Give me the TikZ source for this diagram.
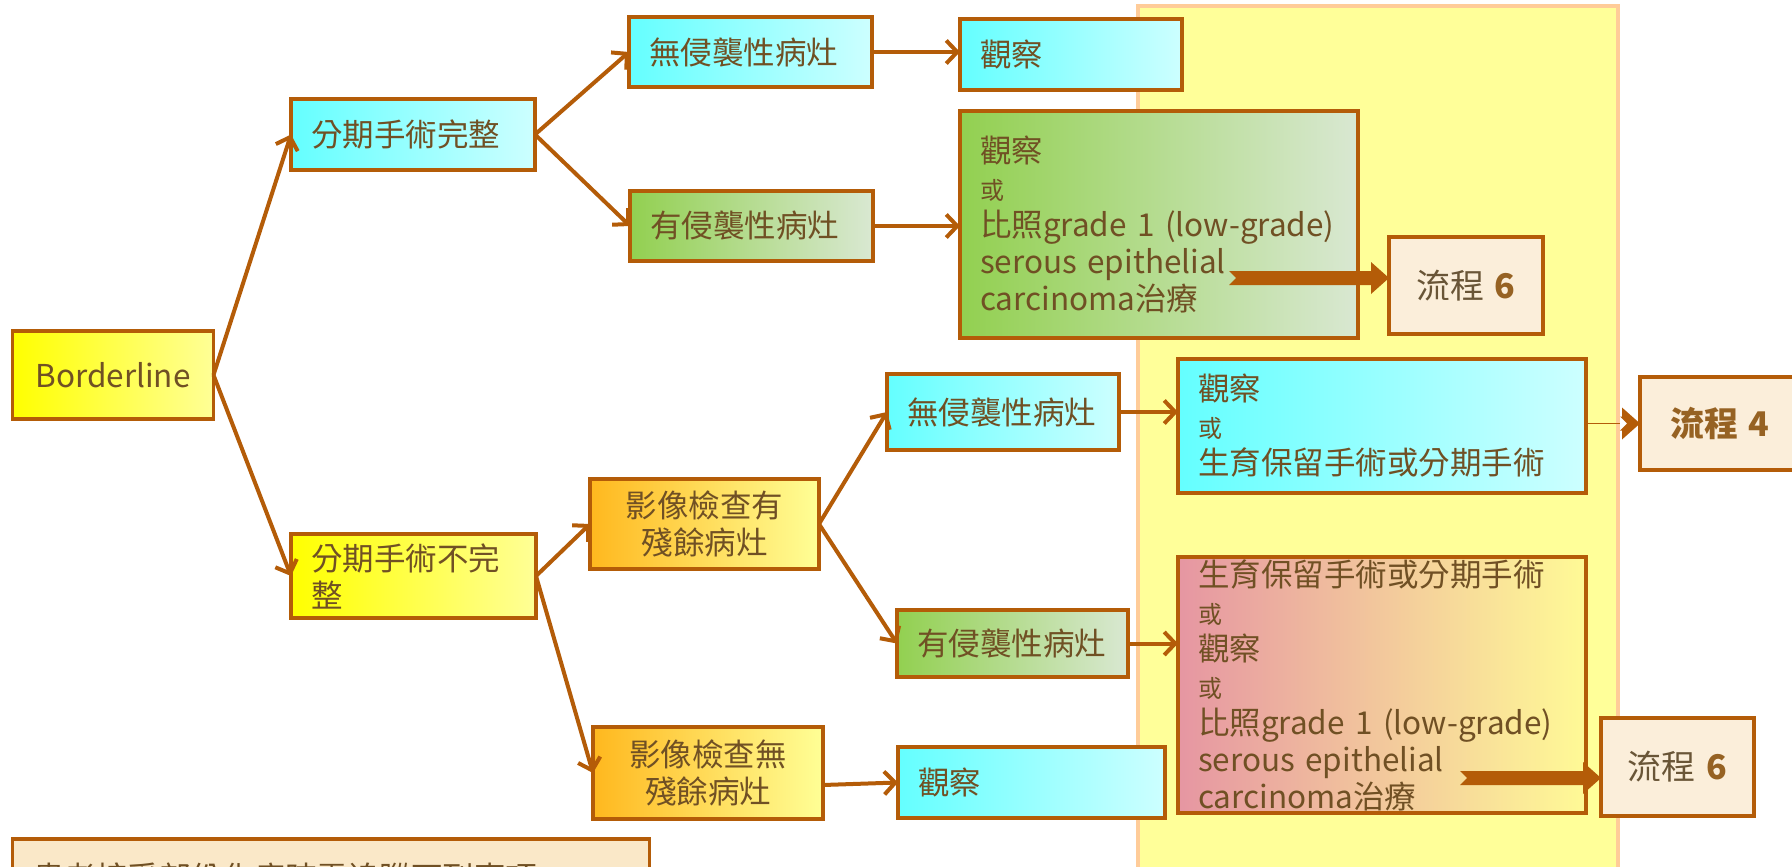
\documentclass[tikz,border=0pt]{standalone}
\usepackage{fontspec}
\setmainfont{Noto Sans CJK TC}
\usetikzlibrary{arrows.meta,calc}
\definecolor{brn}{RGB}{180,92,8}
\definecolor{txt}{RGB}{112,80,36}
\definecolor{cyA}{RGB}{100,255,255}
\definecolor{cyB}{RGB}{205,255,255}
\definecolor{ylA}{RGB}{255,255,0}
\definecolor{ylB}{RGB}{255,255,150}
\definecolor{orA}{RGB}{255,184,30}
\definecolor{orB}{RGB}{255,255,150}
\definecolor{grA}{RGB}{146,208,80}
\definecolor{grB}{RGB}{217,232,210}
\definecolor{pkA}{RGB}{230,150,162}
\definecolor{pkB}{RGB}{255,250,150}
\definecolor{cream}{RGB}{251,238,218}
\definecolor{bgy}{RGB}{255,255,153}
\definecolor{bgb}{RGB}{255,204,153}
\definecolor{note}{RGB}{250,232,200}
\definecolor{flA}{RGB}{105,85,55}
\definecolor{flB}{RGB}{150,98,35}
\newcommand\smallor{{\fontsize{24}{37}\selectfont 或}}
\newcommand\blockarr[2]{%
  \fill[brn] ($(#1)+(0,-7)$) -- ($(#2)+(-18,-7)$) -- ($(#2)+(-18,-16)$) -- (#2)
    -- ($(#2)+(-18,16)$) -- ($(#2)+(-18,7)$) -- ($(#1)+(0,7)$) -- ($(#1)+(7,0)$) -- cycle;}
\begin{document}
\begin{tikzpicture}[x=1pt,y=-1pt,
  bx/.style={draw=brn, line width=3.5pt, inner xsep=20pt, inner ysep=0pt, outer sep=0pt,
    text=txt, align=left, font=\fontsize{31.5}{37}\selectfont},
  shcy/.style={left color=cyA, right color=cyB},
  shyl/.style={left color=ylA, right color=ylB},
  shor/.style={left color=orA, right color=orB},
  shgr/.style={left color=grA, right color=grB},
  shpk/.style={left color=pkA, right color=pkB},
  flow/.style={bx, fill=cream, align=center},
  arr/.style={draw=brn, line width=4pt, -{Straight Barb[length=11pt,width=23pt]}}
]
\useasboundingbox (0,0) rectangle (1792,867);
\clip (0,0) rectangle (1792,867);
% background band
\draw[draw=bgb, line width=4.5pt, fill=bgy] (1138,6) rectangle (1618,900);

% nodes
\node[bx, shyl, align=center, minimum height=88pt, text width=161pt] (bl) at (113,375) {Borderline};
\node[bx, shcy, minimum height=71pt, text width=204pt] (c1) at (413,134.5) {分期手術完整};
\node[bx, shcy, minimum height=70pt, text width=203pt] (n1) at (750.5,52) {無侵襲性病灶};
\node[bx, shcy, minimum height=71pt, text width=182pt] (o1) at (1071,54.5) {觀察};
\node[bx, shgr, minimum height=70pt, text width=203pt] (y1) at (751.5,226) {有侵襲性病灶};
\node[bx, shgr, minimum height=227pt, text width=358pt] (g1) at (1159,224.5)
  {觀察\\ \smallor\\ \mbox{比照grade 1 (low-grade)}\\ \mbox{serous epithelial}\\ \mbox{carcinoma治療}};
\node[flow, minimum height=97pt, text width=114pt] (f1) at (1466,285.5)
  {\fontsize{34}{37}\selectfont\textcolor{flA}{流程} \textcolor{flB}{\bfseries 6}};

\node[bx, shyl, minimum height=84pt, text width=205pt] (c2) at (413.5,576) {分期手術不完\\整};
\node[bx, shor, align=center, minimum height=90pt, text width=189pt] (r1) at (704.5,524) {影像檢查有\\殘餘病灶};
\node[bx, shcy, minimum height=76pt, text width=192pt] (n2) at (1003,412) {無侵襲性病灶};
\node[bx, shcy, minimum height=134pt, text width=368pt] (b1) at (1382,426)
  {觀察\\ \smallor\\ 生育保留手術或分期手術};
\node[flow, minimum height=93pt, text width=120pt] (f2) at (1720,423.5)
  {\fontsize{34}{37}\selectfont\bfseries\textcolor{flB}{流程 4}};
\node[bx, shgr, minimum height=67pt, text width=191pt] (y2) at (1012.5,643.5) {有侵襲性病灶};
\node[bx, shpk, minimum height=256pt, text width=368pt] (p1) at (1382,685)
  {生育保留手術或分期手術\\ \smallor\\ 觀察\\ \smallor\\ \mbox{比照grade 1 (low-grade)}\\ \mbox{serous epithelial}\\ \mbox{carcinoma治療}};
\node[flow, minimum height=98pt, text width=113pt] (f3) at (1677.5,767)
  {\fontsize{34}{37}\selectfont\textcolor{flA}{流程} \textcolor{flB}{\bfseries 6}};
\node[bx, shor, align=center, minimum height=92pt, text width=190pt] (r2) at (708,773) {影像檢查無\\殘餘病灶};
\node[bx, shcy, minimum height=71pt, text width=227pt] (o2) at (1031.5,782.5) {觀察};
\node[bx, fill=note, anchor=north west, minimum height=90pt, text width=597pt, align=left] (tb) at (12.6,839) {};
\node[text=txt, anchor=base west, font=\fontsize{31.5}{37}\selectfont, inner sep=0pt] (tbt) at (33,889) {患者接受部份化療時需追蹤下列事項};

% connectors
\draw[arr] (bl.east) -- (c1.west);
\draw[arr] (bl.east) -- (c2.west);
\draw[arr] (c1.east) -- (n1.west);
\draw[arr] (c1.east) -- (y1.west);
\draw[arr] (n1.east) -- (n1.east -| o1.west);
\draw[arr] (y1.east) -- (y1.east -| g1.west);
\draw[arr] (c2.east) -- (r1.west);
\draw[arr] (c2.east) -- (r2.west);
\draw[arr] (r1.east) -- (n2.west);
\draw[arr] (r1.east) -- (y2.west);
\draw[arr] (n2.east) -- (n2.east -| b1.west);
\draw[arr] (y2.east) -- (y2.east -| p1.west);
\draw[arr] ([yshift=-12pt]r2.east) -- (o2.west);

% block arrows
\coordinate (s1) at (1229,278);
\coordinate (e1) at (s1 -| f1.west);
\blockarr{s1}{e1}
\coordinate (s2) at (1460,778);
\coordinate (e2) at (s2 -| f3.west);
\blockarr{s2}{e2}
\coordinate (s3) at ($(f2.west)+(-20,0)$);
\draw[brn, line width=1pt] (b1.east |- f2.west) -- (s3);
\blockarr{s3}{f2.west}
\end{tikzpicture}
\end{document}
